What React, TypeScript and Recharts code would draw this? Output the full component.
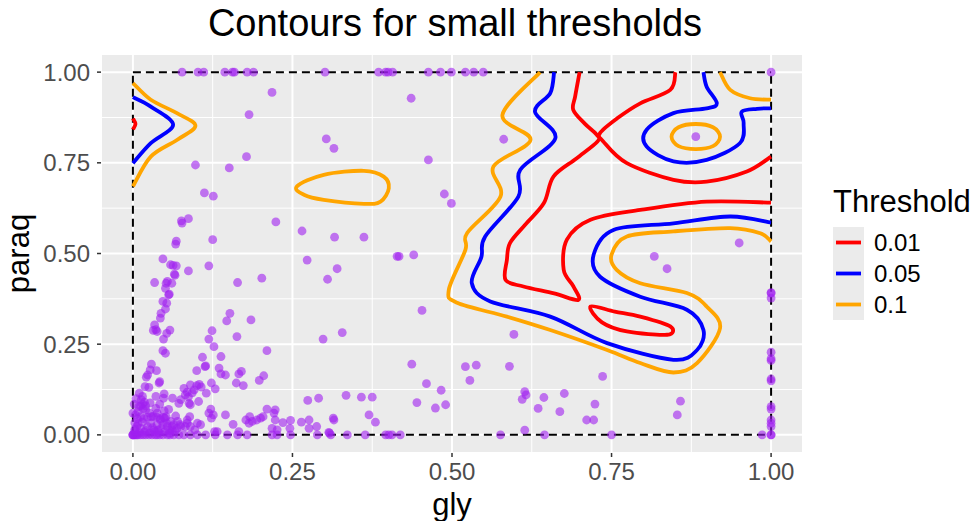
import React from "react";
import { ScatterChart, Scatter, XAxis, YAxis, CartesianGrid, ReferenceLine } from "recharts";

const FONT = "'Liberation Sans', Arial, Helvetica, sans-serif";

const xTicks = [0, 0.25, 0.5, 0.75, 1];
const yTicks = [0, 0.25, 0.5, 0.75, 1];
const minorBreaks = [0.125, 0.375, 0.625, 0.875];

const thresholds = ["0.01", "0.05", "0.1"];
const thresholdColors = ["#FF0000", "#0000FF", "#FFA500"];

// observations (gly, paraq)
const topEdgeX = [0.077, 0.102, 0.111, 0.144, 0.156, 0.159, 0.179, 0.189, 0.301, 0.385, 0.396, 0.4, 0.407, 0.463, 0.482, 0.499, 0.521, 0.534, 0.549, 1.0];
const bottomEdgeX = [0.0, 0.0, 0.0, 0.002, 0.004, 0.006, 0.008, 0.012, 0.016, 0.02, 0.025, 0.03, 0.035, 0.038, 0.042, 0.047, 0.054, 0.058, 0.064, 0.072, 0.08, 0.09, 0.101, 0.114, 0.129, 0.148, 0.164, 0.179, 0.218, 0.226, 0.247, 0.289, 0.31, 0.336, 0.364, 0.396, 0.401, 0.406, 0.419, 0.576, 0.645, 0.75, 0.986, 1.0, 1.0];
const rightEdgeY = [0.392, 0.391, 0.377, 0.228, 0.21, 0.205, 0.154, 0.149, 0.078, 0.071, 0.041, 0.032, 0.023];

const clusterPoints = [
  [0.002, 0.085], [0.009, 0.078], [0.015, 0.106], [0.013, 0.097], [0.018, 0.09], [0.015, 0.085], [0.012, 0.08], [0.02, 0.08],
  [0.016, 0.072], [0.0, 0.06], [0.004, 0.055], [0.02, 0.069], [0.026, 0.06], [0.036, 0.073], [0.038, 0.06], [0.032, 0.051],
  [0.043, 0.041], [0.05, 0.046], [0.053, 0.032], [0.061, 0.023], [0.059, 0.037], [0.052, 0.05], [0.047, 0.028], [0.067, 0.052],
  [0.07, 0.037], [0.064, 0.028], [0.075, 0.023], [0.085, 0.032], [0.09, 0.023], [0.089, 0.05], [0.085, 0.041], [0.101, 0.032],
  [0.106, 0.028], [0.097, 0.014], [0.007, 0.045], [0.012, 0.05], [0.017, 0.045], [0.023, 0.048], [0.029, 0.05], [0.037, 0.049],
  [0.043, 0.045], [0.048, 0.048], [0.006, 0.023], [0.012, 0.018], [0.023, 0.023], [0.033, 0.014], [0.044, 0.018], [0.054, 0.023],
  [0.062, 0.014], [0.069, 0.018], [0.074, 0.028], [0.082, 0.023], [0.003, 0.01], [0.01, 0.006], [0.018, 0.008], [0.026, 0.005],
  [0.034, 0.009], [0.041, 0.006], [0.05, 0.008], [0.058, 0.005], [0.066, 0.009], [0.003, 0.033], [0.008, 0.03], [0.015, 0.035],
  [0.028, 0.032], [0.038, 0.028], [0.049, 0.066], [0.056, 0.07], [0.042, 0.085], [0.036, 0.106], [0.049, 0.113], [0.048, 0.101],
  [0.062, 0.101], [0.072, 0.087], [0.075, 0.097], [0.088, 0.087], [0.09, 0.083], [0.103, 0.092], [0.019, 0.133], [0.025, 0.131],
  [0.042, 0.147], [0.041, 0.143], [0.029, 0.195], [0.027, 0.179], [0.023, 0.165], [0.021, 0.159], [0.037, 0.177], [0.01, 0.115],
  [0.005, 0.1], [0.003, 0.015], [0.02, 0.012], [0.031, 0.02], [0.039, 0.012], [0.057, 0.012], [0.008, 0.064], [0.027, 0.088],
];

const streakPoints = [
  [0.047, 0.485], [0.059, 0.469], [0.063, 0.467], [0.068, 0.466], [0.065, 0.443], [0.066, 0.44], [0.054, 0.423], [0.052, 0.418],
  [0.061, 0.418], [0.034, 0.42], [0.051, 0.404], [0.057, 0.388], [0.056, 0.386], [0.053, 0.363], [0.047, 0.368], [0.051, 0.347],
  [0.044, 0.335], [0.043, 0.322], [0.034, 0.303], [0.036, 0.29], [0.032, 0.288], [0.038, 0.285], [0.058, 0.289], [0.053, 0.28],
  [0.048, 0.264], [0.047, 0.232], [0.051, 0.225], [0.068, 0.534], [0.067, 0.526], [0.076, 0.59], [0.077, 0.584], [0.087, 0.596],
];

const middlePoints = [
  [0.119, 0.466], [0.087, 0.452], [0.164, 0.42], [0.202, 0.432], [0.305, 0.429], [0.32, 0.458], [0.152, 0.335], [0.147, 0.314],
  [0.185, 0.317], [0.124, 0.287], [0.119, 0.264], [0.127, 0.243], [0.163, 0.271], [0.21, 0.232], [0.298, 0.264], [0.328, 0.282],
  [0.453, 0.343], [0.109, 0.214], [0.138, 0.216], [0.113, 0.188], [0.114, 0.19], [0.1, 0.177], [0.135, 0.184], [0.138, 0.168],
  [0.145, 0.165], [0.166, 0.168], [0.17, 0.175], [0.205, 0.163], [0.198, 0.15], [0.162, 0.143], [0.173, 0.136], [0.1, 0.136],
  [0.104, 0.139], [0.107, 0.132], [0.096, 0.124], [0.093, 0.116], [0.115, 0.115], [0.123, 0.143], [0.129, 0.127], [0.08, 0.128],
  [0.085, 0.118], [0.082, 0.11], [0.087, 0.105], [0.09, 0.138], [0.122, 0.071], [0.119, 0.06], [0.126, 0.055], [0.123, 0.046],
  [0.132, 0.009], [0.128, 0.009], [0.145, 0.055], [0.157, 0.029], [0.166, 0.009], [0.177, 0.041], [0.183, 0.05], [0.187, 0.037],
  [0.182, 0.032], [0.194, 0.041], [0.2, 0.046], [0.204, 0.05], [0.21, 0.071], [0.223, 0.069], [0.221, 0.06], [0.223, 0.041],
  [0.235, 0.034], [0.247, 0.04], [0.246, 0.018], [0.218, 0.018], [0.226, 0.014], [0.264, 0.035], [0.276, 0.041], [0.276, 0.018],
  [0.288, 0.023], [0.291, 0.101], [0.274, 0.095], [0.307, 0.007], [0.308, 0.005], [0.314, 0.046], [0.315, 0.041], [0.334, 0.109],
  [0.358, 0.104], [0.375, 0.104], [0.37, 0.055], [0.38, 0.035], [0.437, 0.195], [0.46, 0.141], [0.483, 0.123], [0.445, 0.089],
  [0.474, 0.074], [0.49, 0.083], [0.273, 0.482], [0.414, 0.492], [0.417, 0.492], [0.44, 0.496],
];

const upperPoints = [
  [0.218, 0.944], [0.436, 0.928], [0.182, 0.883], [0.303, 0.816], [0.315, 0.79], [0.178, 0.767], [0.463, 0.758], [0.098, 0.744],
  [0.151, 0.736], [0.112, 0.667], [0.126, 0.658], [0.488, 0.664], [0.499, 0.638], [0.224, 0.587], [0.265, 0.562], [0.316, 0.545],
  [0.362, 0.545], [0.125, 0.538], [0.581, 0.815], [0.882, 0.822], [0.95, 0.529], [0.817, 0.492], [0.837, 0.458],
];

const rightPoints = [
  [0.597, 0.277], [0.521, 0.188], [0.538, 0.192], [0.59, 0.189], [0.528, 0.15], [0.736, 0.161], [0.614, 0.119], [0.616, 0.11],
  [0.61, 0.098], [0.644, 0.103], [0.676, 0.114], [0.635, 0.073], [0.669, 0.064], [0.724, 0.085], [0.711, 0.041], [0.722, 0.041],
  [0.858, 0.093], [0.853, 0.055], [0.614, 0.013],
];

// contour paths, [gly, paraq]
const red1 = [
  [0.7, 1.0], [0.693, 0.933], [0.69, 0.896], [0.708, 0.858], [0.727, 0.827], [0.728, 0.809], [0.695, 0.762], [0.659, 0.712],
  [0.644, 0.639], [0.615, 0.58], [0.591, 0.529], [0.586, 0.482], [0.584, 0.427], [0.612, 0.409], [0.66, 0.39], [0.698, 0.372],
  [0.69, 0.41], [0.675, 0.455], [0.68, 0.538], [0.717, 0.593], [0.795, 0.62], [0.899, 0.643], [1.0, 0.64],
];
const red2 = [
  [0.85, 1.0], [0.842, 0.951], [0.795, 0.914], [0.76, 0.874], [0.732, 0.832], [0.737, 0.809], [0.774, 0.749], [0.847, 0.703],
  [0.899, 0.698], [0.962, 0.726], [1.0, 0.767],
];
const red3 = [
  [0.717, 0.354], [0.755, 0.34], [0.795, 0.326], [0.842, 0.299], [0.837, 0.276], [0.774, 0.285], [0.735, 0.31], [0.717, 0.354],
];
const red4 = [[0.0, 0.872], [0.004, 0.857], [0.0, 0.842]];

const blue1 = [
  [0.66, 1.0], [0.654, 0.942], [0.63, 0.891], [0.662, 0.818], [0.607, 0.731], [0.604, 0.657], [0.552, 0.547], [0.546, 0.49],
  [0.531, 0.418], [0.56, 0.368], [0.654, 0.326], [0.743, 0.253], [0.847, 0.207], [0.884, 0.234], [0.894, 0.289], [0.868, 0.345],
  [0.795, 0.381], [0.732, 0.436], [0.722, 0.497], [0.753, 0.565], [0.847, 0.583], [0.936, 0.602], [1.0, 0.585],
];
const blue2 = [
  [0.894, 1.0], [0.899, 0.96], [0.915, 0.914], [0.899, 0.9], [0.847, 0.887], [0.805, 0.841], [0.805, 0.795], [0.847, 0.754],
  [0.899, 0.758], [0.951, 0.804], [0.957, 0.859], [0.954, 0.891], [0.978, 0.899], [1.0, 0.9],
];
const blue3 = [[0.0, 0.931], [0.028, 0.905], [0.063, 0.855], [0.028, 0.804], [0.0, 0.749]];

const orange1 = [
  [0.638, 1.0], [0.579, 0.882], [0.623, 0.813], [0.565, 0.74], [0.576, 0.657], [0.524, 0.557], [0.521, 0.51], [0.495, 0.4],
  [0.508, 0.364], [0.586, 0.326], [0.654, 0.289], [0.743, 0.234], [0.795, 0.198], [0.847, 0.172], [0.884, 0.198], [0.92, 0.294],
  [0.899, 0.354], [0.868, 0.391], [0.795, 0.418], [0.758, 0.455], [0.75, 0.497], [0.774, 0.547], [0.847, 0.561], [0.936, 0.57],
  [0.983, 0.556], [1.0, 0.533],
];
const orange2 = [[0.92, 1.0], [0.936, 0.951], [0.967, 0.928], [1.0, 0.924]];
const orange3 = [
  [0.92, 0.822], [0.909, 0.848], [0.882, 0.857], [0.855, 0.848], [0.844, 0.822], [0.855, 0.796], [0.882, 0.788], [0.909, 0.796], [0.92, 0.822],
];
const orange4 = [
  [0.257, 0.685], [0.299, 0.717], [0.362, 0.728], [0.393, 0.712], [0.401, 0.68], [0.388, 0.643], [0.362, 0.637], [0.299, 0.648],
  [0.268, 0.662], [0.257, 0.685],
];
const orange5 = [[0.0, 0.97], [0.028, 0.924], [0.069, 0.887], [0.098, 0.852], [0.069, 0.813], [0.028, 0.767], [0.0, 0.685]];

const contours = [
  { level: 0, paths: [red1, red2, red3, red4] },
  { level: 1, paths: [blue1, blue2, blue3] },
  { level: 2, paths: [orange1, orange2, orange3, orange4, orange5] },
];

const toXY = (pts: number[][]) => pts.map(([x, y]) => ({ x, y }));

const observations = [
  ...topEdgeX.map((x) => ({ x, y: 1 })),
  ...bottomEdgeX.map((x) => ({ x, y: 0 })),
  ...rightEdgeY.map((y) => ({ x: 1, y })),
  ...toXY(clusterPoints),
  ...toXY(streakPoints),
  ...toXY(middlePoints),
  ...toXY(upperPoints),
  ...toXY(rightPoints),
];

// catmull-rom curve so contour paths pass through the read points
function smoothCurve(context: any) {
  let pts: number[][] = [];
  return {
    areaStart() {},
    areaEnd() {},
    lineStart() {
      pts = [];
    },
    point(x: number, y: number) {
      pts.push([+x, +y]);
    },
    lineEnd() {
      const n = pts.length;
      if (!n) return;
      context.moveTo(pts[0][0], pts[0][1]);
      const closed = n > 3 && pts[0][0] === pts[n - 1][0] && pts[0][1] === pts[n - 1][1];
      for (let i = 0; i < n - 1; i++) {
        const p1 = pts[i];
        const p2 = pts[i + 1];
        const p0 = i > 0 ? pts[i - 1] : closed ? pts[n - 2] : p1;
        const p3 = i + 2 < n ? pts[i + 2] : closed ? pts[1] : p2;
        context.bezierCurveTo(
          p1[0] + (p2[0] - p0[0]) / 6,
          p1[1] + (p2[1] - p0[1]) / 6,
          p2[0] - (p3[0] - p1[0]) / 6,
          p2[1] - (p3[1] - p1[1]) / 6,
          p2[0],
          p2[1]
        );
      }
      if (closed) context.closePath();
    },
  };
}

const NoShape = () => <g />;
const Dot = (p: any) => <circle cx={p.cx} cy={p.cy} r={4.4} fill="#A020F0" fillOpacity={0.6} />;

const fmt = (v: number) => v.toFixed(2);
const dash = { stroke: "#000", strokeWidth: 2, strokeDasharray: "8 5" };

export default function App() {
  return (
    <div style={{ position: "absolute", left: 0, top: 0, width: 977, height: 521, fontFamily: FONT }}>
      <ScatterChart width={977} height={521} margin={{ top: 54, right: 174, bottom: 0, left: 41 }}>
        <CartesianGrid fill="#EBEBEB" fillOpacity={1} stroke="#FFFFFF" strokeWidth={2} />
        {minorBreaks.map((v) => (
          <ReferenceLine key={"mx" + v} x={v} stroke="#FFFFFF" strokeWidth={1} />
        ))}
        {minorBreaks.map((v) => (
          <ReferenceLine key={"my" + v} y={v} stroke="#FFFFFF" strokeWidth={1} />
        ))}
        <XAxis
          type="number"
          dataKey="x"
          domain={[-0.05, 1.05]}
          ticks={xTicks}
          interval={0}
          tickFormatter={fmt}
          height={68}
          axisLine={false}
          tickSize={4}
          tickMargin={6}
          tickLine={{ stroke: "#333333", strokeWidth: 1.5 }}
          tick={{ fill: "#4D4D4D", fontSize: 24, fontFamily: FONT }}
          label={{
            content: (p: any) => (
              <text
                x={p.viewBox.x + p.viewBox.width / 2}
                y={515}
                textAnchor="middle"
                fontSize={31}
                fontFamily={FONT}
                fill="#000"
              >
                gly
              </text>
            ),
          }}
        />
        <YAxis
          type="number"
          dataKey="y"
          domain={[-0.05, 1.05]}
          ticks={yTicks}
          interval={0}
          tickFormatter={fmt}
          width={60}
          axisLine={false}
          tickSize={4}
          tickMargin={7}
          tickLine={{ stroke: "#333333", strokeWidth: 1.5 }}
          tick={{ fill: "#4D4D4D", fontSize: 24, fontFamily: FONT }}
          label={{
            content: (p: any) => {
              const cy = p.viewBox.y + p.viewBox.height / 2;
              return (
                <text
                  x={29}
                  y={cy}
                  transform={`rotate(-90, 29, ${cy})`}
                  textAnchor="middle"
                  fontSize={31}
                  fontFamily={FONT}
                  fill="#000"
                >
                  paraq
                </text>
              );
            },
          }}
        />
        <ReferenceLine segment={[{ x: 0, y: 0 }, { x: 0, y: 1 }]} {...dash} />
        <ReferenceLine segment={[{ x: 1, y: 0 }, { x: 1, y: 1 }]} {...dash} />
        <ReferenceLine segment={[{ x: 0, y: 0 }, { x: 1, y: 0 }]} {...dash} />
        <ReferenceLine segment={[{ x: 0, y: 1 }, { x: 1, y: 1 }]} {...dash} />
        <Scatter data={observations} shape={Dot} isAnimationActive={false} />
        {contours.map((c) =>
          c.paths.map((path, i) => (
            <Scatter
              key={c.level + "-" + i}
              data={toXY(path)}
              shape={NoShape}
              line={{ stroke: thresholdColors[c.level], strokeWidth: 3.8 }}
              lineType="joint"
              lineJointType={smoothCurve as any}
              isAnimationActive={false}
            />
          ))
        )}
      </ScatterChart>
      <svg
        width={977}
        height={521}
        style={{ position: "absolute", left: 0, top: 0, pointerEvents: "none" }}
      >
        <text x={455} y={36} textAnchor="middle" fontSize={38} fontFamily={FONT} fill="#000">
          Contours for small thresholds
        </text>
        <text x={833} y={212} fontSize={31} fontFamily={FONT} fill="#000">
          Threshold
        </text>
        <rect x={833} y={227} width={31} height={93} fill="#EBEBEB" />
        {thresholds.map((t, i) => (
          <g key={t}>
            <line x1={836} x2={861} y1={242.5 + i * 31} y2={242.5 + i * 31} stroke={thresholdColors[i]} strokeWidth={3.8} />
            <text x={874} y={242.5 + i * 31} dy="0.355em" fontSize={24} fontFamily={FONT} fill="#000">
              {t}
            </text>
          </g>
        ))}
      </svg>
    </div>
  );
}
